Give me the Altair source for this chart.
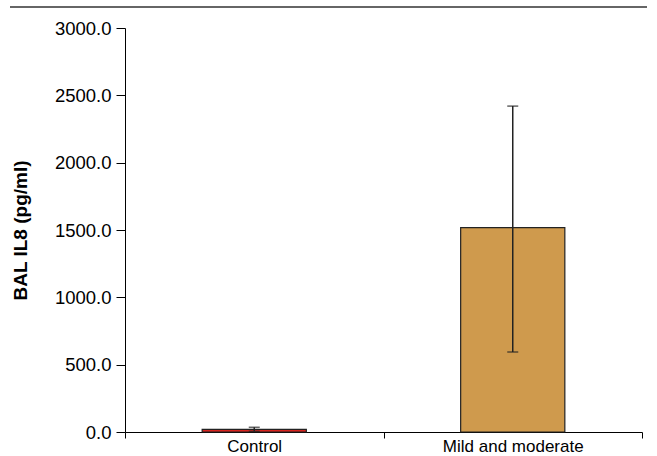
import altair as alt
import pandas as pd

groups = ["Control", "Mild and moderate"]
means = [20, 1518]
err_low = [5, 594]
err_high = [35, 2420]
colors = ["#D8231E", "#CF9A4D"]
y_ticks = [0, 500, 1000, 1500, 2000, 2500, 3000]

df = pd.DataFrame({"group": groups, "mean": means, "lo": err_low, "hi": err_high, "color": colors})

FONT = "Liberation Sans"

x_enc = alt.X(
    "group:N",
    sort=groups,
    scale=alt.Scale(paddingInner=0, paddingOuter=0),
    axis=alt.Axis(
        title=None, labelAngle=0, tickBand="extent", labelFontSize=17, labelFont=FONT,
        labelColor="black", domainColor="black", tickColor="black", tickSize=6,
        labelPadding=0, domainWidth=1, tickWidth=1,
    ),
)
y_scale = alt.Scale(domain=[0, 3000], nice=False)
y_axis = alt.Axis(
    values=y_ticks, format=".1f", title="BAL IL8 (pg/ml)", titleFontSize=19,
    titleFont=FONT, titleFontWeight="bold", titleColor="black", titlePadding=24,
    labelFontSize=18.5, labelFont=FONT, labelColor="black", domainColor="black",
    tickColor="black", tickSize=9, labelPadding=5, grid=False, domainWidth=1, tickWidth=1,
)

base = alt.Chart(df)

bars = base.mark_bar(stroke="#222222", strokeWidth=1.2, width=alt.RelativeBandSize(0.403)).encode(
    x=x_enc,
    y=alt.Y("mean:Q", scale=y_scale, axis=y_axis),
    color=alt.Color("color:N", scale=None),
)

rules = base.mark_rule(color="#222222", strokeWidth=1.5).encode(
    x=alt.X("group:N", sort=groups), y="lo:Q", y2="hi:Q"
)
cap_hi = base.mark_tick(color="#222222", thickness=1.5, size=11).encode(
    x=alt.X("group:N", sort=groups), y="hi:Q"
)
cap_lo = base.mark_tick(color="#222222", thickness=1.5, size=11).encode(
    x=alt.X("group:N", sort=groups), y="lo:Q"
)

top_line = alt.Chart(pd.DataFrame({"a": [0]})).mark_rule(
    color="#333333", strokeWidth=1.5, clip=False
).encode(x=alt.value(-115), x2=alt.value(522), y=alt.value(-21))

chart = alt.layer(bars, rules, cap_hi, cap_lo, top_line).properties(
    width=517,
    height=404,
    autosize=alt.AutoSizeParams(type="none"),
    padding={"left": 125, "top": 28, "right": 15, "bottom": 24},
).configure(background="white", view=alt.ViewConfig(stroke=None))

chart.save("out.html", embed_options={"renderer": "svg", "actions": False})
